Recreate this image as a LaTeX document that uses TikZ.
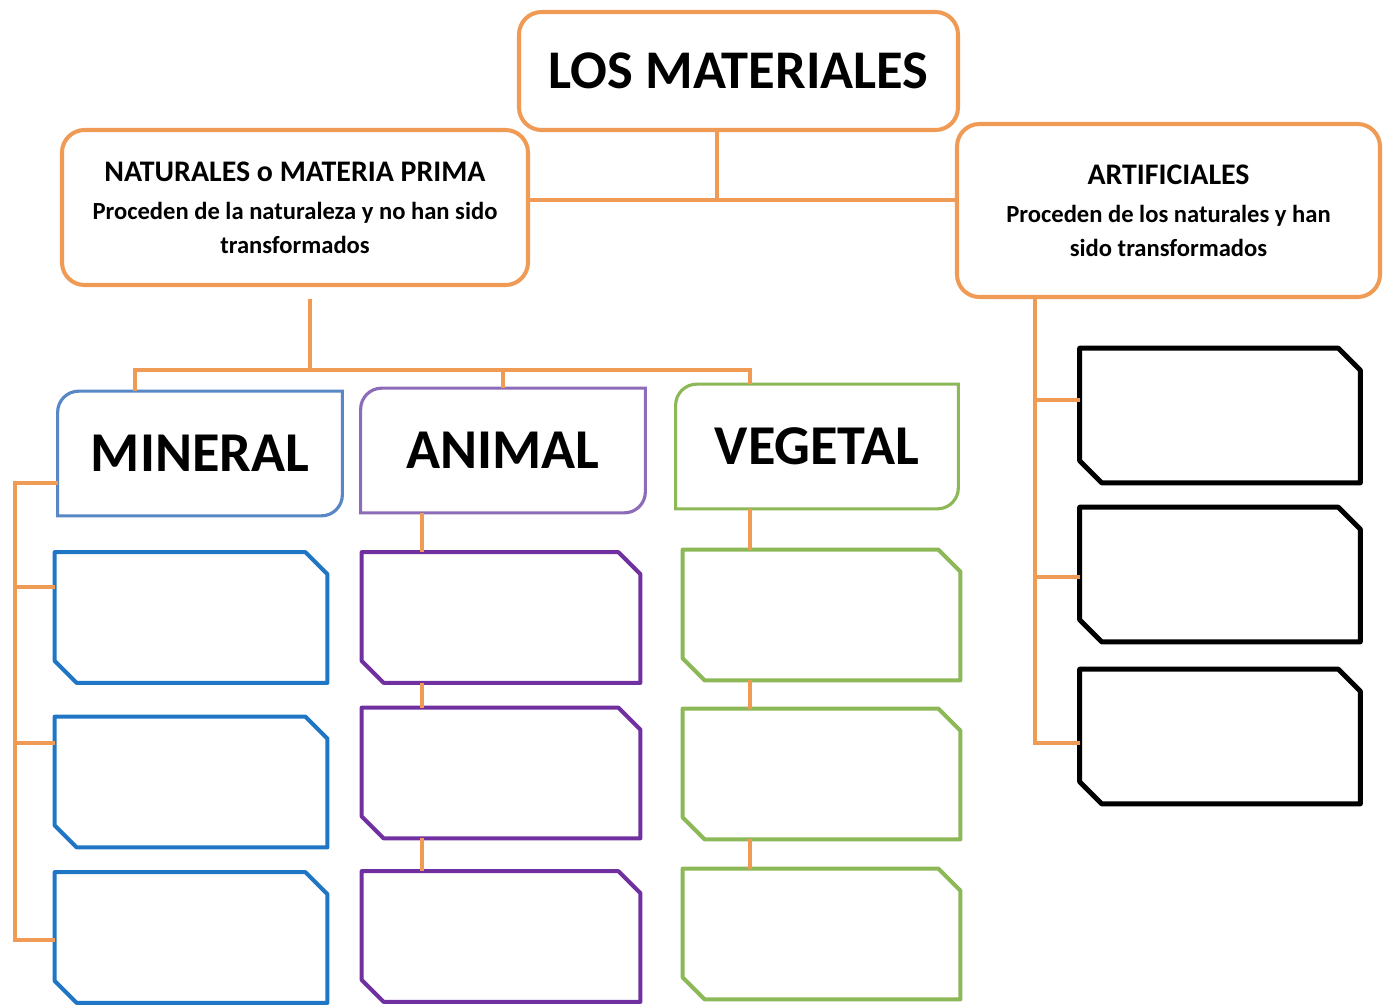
\documentclass[tikz,border=0pt]{standalone}
\usepackage{fontspec}
\setmainfont{Carlito}
\usetikzlibrary{positioning}
\definecolor{naranja}{RGB}{240,155,85}
\definecolor{azultit}{RGB}{88,135,198}
\definecolor{azul}{RGB}{30,118,196}
\definecolor{lilatit}{RGB}{140,108,184}
\definecolor{lila}{RGB}{112,48,160}
\definecolor{verde}{RGB}{140,184,88}

% frame with rounded top-left and bottom-right corners
\newcommand{\catframe}[2]{%
  \draw[#2, line width=1.8pt, line cap=round]
    (#1.west) [rounded corners=0.42cm] |- (#1.north) [sharp corners] -| (#1.east)
    [rounded corners=0.42cm] |- (#1.south) [sharp corners] -| (#1.west);}
% frame with cut top-right and bottom-left corners
\newcommand{\chamframe}[2]{%
  \draw[#2, line join=round] ([xshift=-0.44cm]#1.north east) -- ([yshift=-0.44cm]#1.north east)
    -- (#1.south east) -- ([xshift=0.44cm]#1.south west) -- ([yshift=0.44cm]#1.south west)
    -- (#1.north west) -- cycle;}

\begin{document}
\begin{tikzpicture}[
    conn/.style={naranja, line width=2.6pt},
    mainbox/.style={draw=naranja, line width=2.3pt, rounded corners=0.45cm, inner sep=0pt},
    textbox/.style={mainbox, align=center, font=\fontsize{14pt}{19pt}\selectfont\bfseries},
    catbox/.style={minimum height=2.48cm, inner sep=0pt, font=\fontsize{32pt}{38pt}\selectfont\bfseries},
    emptybox/.style={minimum height=2.6cm, inner sep=0pt},
    minline/.style={azul, line width=2.3pt},
    aniline/.style={lila, line width=2.3pt},
    vegline/.style={verde, line width=2.3pt},
    artline/.style={black, line width=2.8pt}
  ]
  \useasboundingbox (0,0) rectangle (27.8,-20.08);

  % main boxes
  \node[mainbox, minimum width=8.78cm, minimum height=2.36cm,
        font=\fontsize{31pt}{37pt}\selectfont\bfseries] (mat) at (14.77,-1.42) {LOS MATERIALES};
  \node[textbox, minimum width=9.32cm, minimum height=3.10cm] (nat) at (5.90,-4.15)
    {{\fontsize{17pt}{20pt}\selectfont NATURALES o MATERIA PRIMA}\\[3pt]
     Proceden de la naturaleza y no han sido\\transformados};
  \node[textbox, minimum width=8.46cm, minimum height=3.46cm] (art) at (23.37,-4.21)
    {{\fontsize{17pt}{20pt}\selectfont ARTIFICIALES}\\[3pt]
     Proceden de los naturales y han\\sido transformados};

  % categories
  \node[catbox, minimum width=5.68cm] (min) at (4.00,-9.07) {MINERAL};
  \node[catbox, minimum width=5.68cm] (ani) at (10.06,-9.01) {ANIMAL};
  \node[catbox, minimum width=5.64cm] (veg) at (16.34,-8.93) {VEGETAL};
  \catframe{min}{azultit}
  \catframe{ani}{lilatit}
  \catframe{veg}{verde}

  % empty boxes
  \foreach \n/\y in {1/-12.35, 2/-15.64, 3/-18.75}
    \node[emptybox, minimum width=5.44cm] (m\n) at (3.82,\y) {};
  \foreach \n/\y in {1/-12.35, 2/-15.46, 3/-18.73}
    \node[emptybox, minimum width=5.56cm] (a\n) at (10.02,\y) {};
  \foreach \n/\y in {1/-12.30, 2/-15.48, 3/-18.68}
    \node[emptybox, minimum width=5.54cm] (v\n) at (16.43,\y) {};
  \foreach \n/\y in {1/-8.31, 2/-11.49, 3/-14.73}
    \node[emptybox, minimum width=5.60cm, minimum height=2.68cm] (r\n) at (24.40,\y) {};
  \foreach \n in {1,2,3} {
    \chamframe{m\n}{minline}
    \chamframe{a\n}{aniline}
    \chamframe{v\n}{vegline}
    \chamframe{r\n}{artline}
  }

  % connectors
  \coordinate (top) at (14.34,-4.00);
  \draw[conn] (mat.south -| top) -- (top);
  \draw[conn] (nat.east |- top) -- (art.west |- top);

  \coordinate (nb) at (6.20,-7.40);
  \coordinate (ml) at (2.70,-7.40);
  \coordinate (vl) at (15.00,-7.40);
  \draw[conn, shorten <=0.24cm] (nat.south -| nb) -- (nb);
  \draw[conn] (min.north -| ml) -- (ml) -- (vl) -- (veg.north -| vl);
  \draw[conn] (ani.north) -- (ani.north |- ml);

  % mineral side bar
  \coordinate (mx) at (0.30,-9.66);
  \coordinate (mj1) at (0.30,-11.74);
  \coordinate (mj2) at (0.30,-14.86);
  \coordinate (mj3) at (0.30,-18.80);
  \draw[conn] (min.west |- mx) -- (mx) -- (mj3) -- (m3.west |- mj3);
  \draw[conn] (mj1) -- (m1.west |- mj1);
  \draw[conn] (mj2) -- (m2.west |- mj2);

  % animal and vegetal chains
  \coordinate (ax) at (8.44,0);
  \coordinate (vx) at (15.00,0);
  \foreach \u/\v in {ani/a1, a1/a2, a2/a3}
    \draw[conn] (\u.south -| ax) -- (\v.north -| ax);
  \foreach \u/\v in {veg/v1, v1/v2, v2/v3}
    \draw[conn] (\u.south -| vx) -- (\v.north -| vx);

  % artificial side bar
  \coordinate (rx) at (20.70,-5.94);
  \coordinate (rj1) at (20.70,-8.00);
  \coordinate (rj2) at (20.70,-11.54);
  \coordinate (rj3) at (20.70,-14.86);
  \draw[conn] (rx) -- (rj3) -- (r3.west |- rj3);
  \draw[conn] (rj1) -- (r1.west |- rj1);
  \draw[conn] (rj2) -- (r2.west |- rj2);
\end{tikzpicture}
\end{document}
